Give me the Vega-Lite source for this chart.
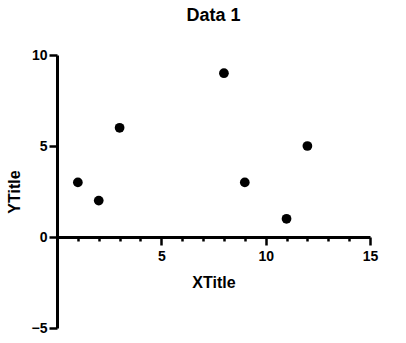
{
  "$schema": "https://vega.github.io/schema/vega-lite/v6.json",
  "width": 313,
  "height": 273,
  "autosize": {"type": "none"},
  "padding": {"left": 57, "top": 55, "right": 36, "bottom": 15},
  "background": "white",
  "title": {"text": "Data 1", "fontSize": 18, "font": "Liberation Sans", "fontWeight": "bold", "anchor": "middle", "offset": 23, "color": "black"},
  "config": {
    "view": {"stroke": null},
    "axis": {"grid": false, "domainColor": "black", "tickColor": "black", "labelColor": "black", "titleColor": "black", "labelFont": "Liberation Sans", "titleFont": "Liberation Sans", "labelFontWeight": "bold", "titleFontWeight": "bold", "labelFontSize": 14, "titleFontSize": 16, "domainWidth": 3, "tickWidth": 2.5, "labelFlush": false, "labelOverlap": false}
  },
  "data": {"values": [
    {"x": 1, "y": 3},
    {"x": 2, "y": 2},
    {"x": 3, "y": 6},
    {"x": 8, "y": 9},
    {"x": 9, "y": 3},
    {"x": 11, "y": 1},
    {"x": 12, "y": 5}
  ]},
  "mark": {"type": "point", "filled": true, "color": "black", "opacity": 1, "size": 95},
  "encoding": {
    "x": {"field": "x", "type": "quantitative", "scale": {"domain": [0, 15], "nice": false, "zero": false},
      "axis": {"title": "XTitle", "offset": -91, "values": [1,2,3,4,5,6,7,8,9,10,11,12,13,14,15],
        "labelExpr": "datum.value % 5 === 0 ? datum.label : ''",
        "tickSize": {"condition": {"test": "datum.value % 5 === 0", "value": 8}, "value": 4},
        "labelPadding": 4, "titlePadding": 11}},
    "y": {"field": "y", "type": "quantitative", "scale": {"domain": [-5, 10], "nice": false, "zero": false},
      "axis": {"title": "YTitle", "values": [-5, 0, 5, 10], "tickSize": 8, "labelPadding": 2, "titlePadding": 9}}
  }
}
